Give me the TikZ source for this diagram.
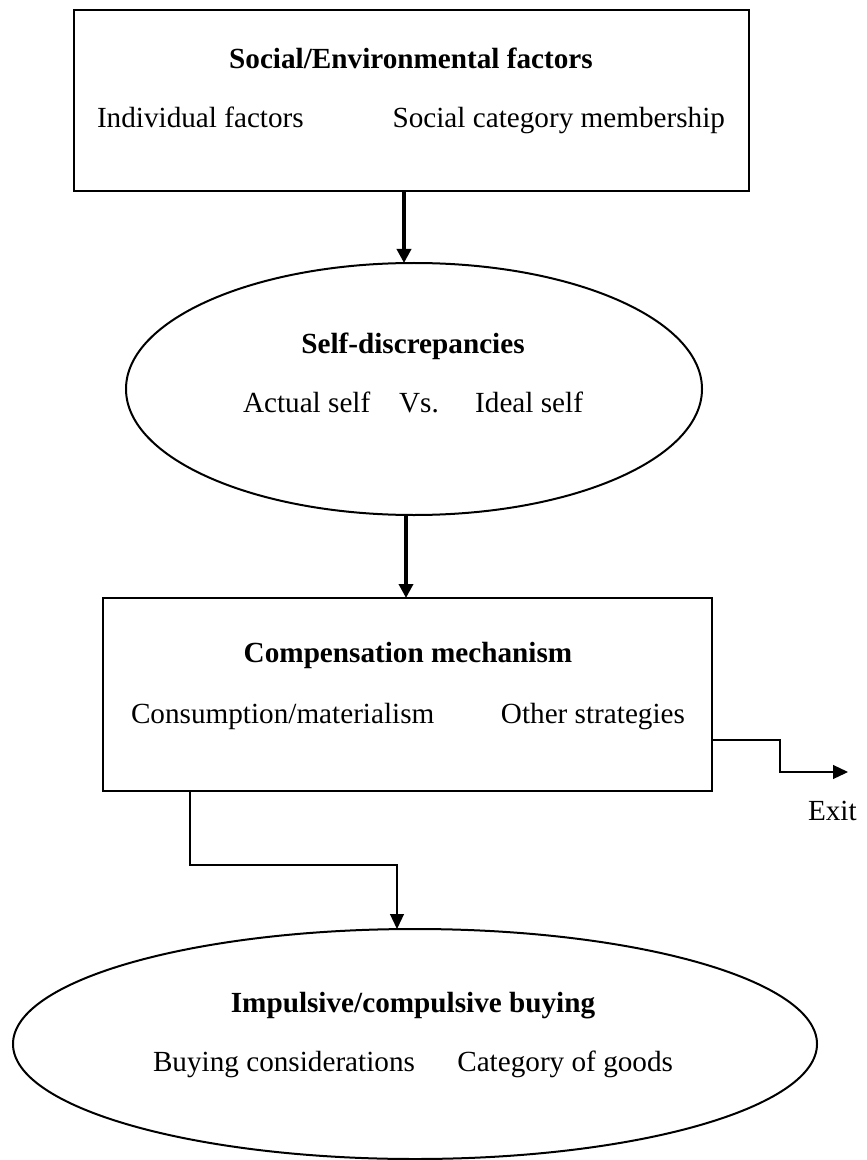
\documentclass[tikz,border=0pt]{standalone}
\usepackage{fontspec}
\setmainfont{Liberation Serif}
\usetikzlibrary{shapes.geometric,arrows.meta}

\begin{document}
\begin{tikzpicture}[
  x=0.5pt, y=-0.5pt,
  every node/.style={inner sep=0pt, outer sep=0pt, font=\fontsize{14.6}{17}\selectfont},
  boxshape/.style={draw, rectangle, line width=1pt},
  ovalshape/.style={draw, ellipse, line width=1pt},
  heading/.style={anchor=base, font=\fontsize{14.6}{17}\selectfont\bfseries},
  lefttext/.style={anchor=base west},
  righttext/.style={anchor=base east},
  midtext/.style={anchor=base},
  mainarrow/.style={line width=1.75pt, -{Triangle[width=7pt,length=7pt]}},
  sidearrow/.style={line width=0.6pt, -{Triangle[width=7pt,length=7.5pt]}},
]
\useasboundingbox (0,0) rectangle (866,1160);

% social / environmental factors
\node[boxshape, minimum width=337.5pt, minimum height=90.5pt] (social) at (411.5,100.5) {};
\node[heading] (socialT) at (411,69) {Social/Environmental factors};
\node[lefttext] (indiv) at (97,128) {Individual factors};
\node[righttext] (member) at (725,128) {Social category membership};

% self-discrepancies
\node[ovalshape, minimum width=288pt, minimum height=126pt] (self) at (414,389) {};
\node[heading] (selfT) at (413,353) {Self-discrepancies};
\node[lefttext] (actual) at (243,412) {Actual self};
\node[midtext] (vs) at (419,412) {Vs.};
\node[righttext] (ideal) at (583,412) {Ideal self};

% compensation mechanism
\node[boxshape, minimum width=304.5pt, minimum height=96.5pt] (comp) at (407.5,694.5) {};
\node[heading] (compT) at (408,662) {Compensation mechanism};
\node[lefttext] (consum) at (131,723) {Consumption/materialism};
\node[righttext] (other) at (685,723) {Other strategies};

% impulsive / compulsive buying
\node[ovalshape, minimum width=402pt, minimum height=115pt] (buy) at (415,1044) {};
\node[heading] (buyT) at (413,1012) {Impulsive/compulsive buying};
\node[lefttext] (consid) at (153,1071) {Buying considerations};
\node[righttext] (goods) at (673,1071) {Category of goods};

% exit label
\node[lefttext] (exit) at (808,820) {Exit};

% connector guide points
\coordinate (a1) at (404,0);
\coordinate (a2) at (406,0);
\coordinate (b1) at (190,0);
\coordinate (b2) at (397,865);
\coordinate (e1) at (780,740);
\coordinate (e2) at (848,772);

% main flow
\draw[mainarrow] (social.south -| a1) -- (self.north -| a1);
\draw[mainarrow] (self.south -| a2) -- (comp.north -| a2);

% branch to buying
\draw[sidearrow] (comp.south -| b1) |- (b2) -- (buy.north -| b2);

% branch to exit
\draw[sidearrow] (comp.east |- e1) -- (e1) |- (e2);
\end{tikzpicture}
\end{document}
